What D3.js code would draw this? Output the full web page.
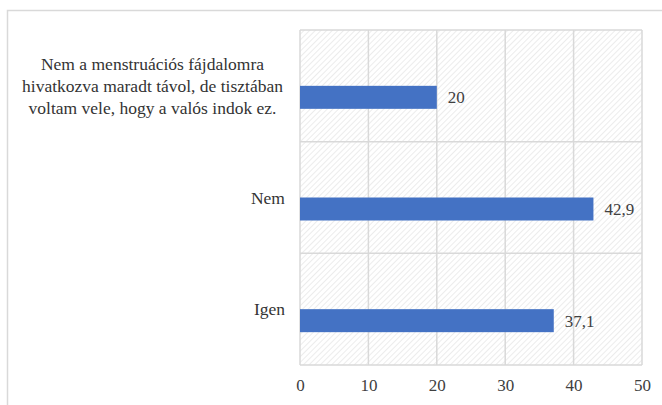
<!doctype html>
<html>
<head>
  <meta charset="utf-8">
  <title>bar chart</title>
  <style>
    body { margin: 0; background: #fff; }
  </style>
</head>
<body>
  <div id="chart"></div>
  <script src="https://d3js.org/d3.v7.min.js"></script>
  <script>
    // adatok (alulról felfelé: Igen, Nem, ...)
    const categories = ['Igen', 'Nem', 'Nem a menstruációs fájdalomra hivatkozva maradt távol, de tisztában voltam vele, hogy a valós indok ez.'];
    const categoryLines = [['Igen'], ['Nem'], ['Nem a menstruációs fájdalomra', 'hivatkozva maradt távol, de tisztában', 'voltam vele, hogy a valós indok ez.']];
    const values = [37.1, 42.9, 20];
    const valueLabels = ['37,1', '42,9', '20'];
    const xTicks = [0, 10, 20, 30, 40, 50];

    const W = 662, H = 405;
    const FONT = '"Liberation Serif", Tinos';
    const svg = d3.select('#chart').append('svg').attr('width', W).attr('height', H);

    // külső keret (csak bal és felső él látszik)
    svg.append('path')
      .attr('d', `M7.5,${H} V10.5 H${W}`)
      .attr('fill', 'none').attr('stroke', '#d9d9d9').attr('stroke-width', 1.5);

    const plot = { left: 300, right: 642, top: 30, bottom: 365 };

    const x = d3.scaleLinear().domain([0, 50]).range([plot.left, plot.right]);
    const y = d3.scaleBand().domain(categories.slice().reverse()).range([plot.top, plot.bottom]);
    // két sorozatos elrendezés, az adat a második helyen
    const sub = d3.scaleBand().domain(['a', 'b']).range([y.bandwidth() / 2 - 23, y.bandwidth() / 2 + 23]);

    // sraffozott háttér
    const defs = svg.append('defs');
    const pat = defs.append('pattern')
      .attr('id', 'hatch').attr('patternUnits', 'userSpaceOnUse')
      .attr('width', 4).attr('height', 4)
      .attr('patternTransform', 'rotate(45)');
    pat.append('rect').attr('width', 4).attr('height', 4).attr('fill', '#fff');
    pat.append('line').attr('x1', 0).attr('y1', 0).attr('x2', 0).attr('y2', 4)
      .attr('stroke', '#e6e6e6').attr('stroke-width', 1.5);

    svg.append('rect')
      .attr('x', plot.left).attr('y', plot.top)
      .attr('width', plot.right - plot.left).attr('height', plot.bottom - plot.top)
      .attr('fill', 'url(#hatch)');

    // rácsvonalak
    svg.append('g').selectAll('line').data(xTicks).join('line')
      .attr('x1', d => x(d)).attr('x2', d => x(d))
      .attr('y1', plot.top).attr('y2', plot.bottom)
      .attr('stroke', '#d9d9d9').attr('stroke-width', 1.5);

    const bounds = y.domain().map(d => y(d)).concat([plot.bottom]);
    svg.append('g').selectAll('line').data(bounds).join('line')
      .attr('x1', plot.left).attr('x2', plot.right)
      .attr('y1', d => d).attr('y2', d => d)
      .attr('stroke', '#d9d9d9').attr('stroke-width', 1.5);

    // oszlopok
    svg.append('g').selectAll('rect').data(values).join('rect')
      .attr('x', x(0))
      .attr('y', (d, i) => y(categories[i]) + sub('b'))
      .attr('width', d => x(d) - x(0))
      .attr('height', sub.bandwidth())
      .attr('fill', '#4472c4');

    // értékcímkék
    svg.append('g').selectAll('text').data(values).join('text')
      .attr('x', d => x(d) + 11)
      .attr('y', (d, i) => y(categories[i]) + sub('b') + sub.bandwidth() / 2)
      .attr('dy', '0.35em')
      .attr('font-size', 17).attr('fill', '#404040')
      .style('font-family', FONT)
      .text((d, i) => valueLabels[i]);

    // x tengely feliratai
    const xAxis = svg.append('g')
      .attr('transform', `translate(0,${plot.bottom})`)
      .call(d3.axisBottom(x).tickValues(xTicks).tickSize(0).tickPadding(14).tickFormat(d3.format('d')));
    xAxis.select('.domain').remove();
    xAxis.attr('font-family', null).attr('font-size', null);
    xAxis.selectAll('text')
      .attr('font-size', 17).attr('fill', '#404040')
      .style('font-family', FONT);

    // kategória feliratok
    const catG = svg.append('g');
    categories.forEach((c, i) => {
      const lines = categoryLines[i];
      const cy = y(c) + y.bandwidth() / 2;
      const t = catG.append('text').attr('y', cy)
        .attr('font-size', 17.5).attr('fill', '#333')
        .style('font-family', FONT);
      if (lines.length === 1) {
        t.attr('x', 285).attr('text-anchor', 'end').attr('dy', '0.35em').text(lines[0]);
      } else {
        const lh = 22;
        t.attr('x', 152.5).attr('text-anchor', 'middle');
        lines.forEach((l, j) => {
          t.append('tspan').attr('x', 152.5)
            .attr('y', cy + (j - (lines.length - 1) / 2) * lh)
            .attr('dy', '0.35em').text(l);
        });
      }
    });
  </script>
</body>
</html>
